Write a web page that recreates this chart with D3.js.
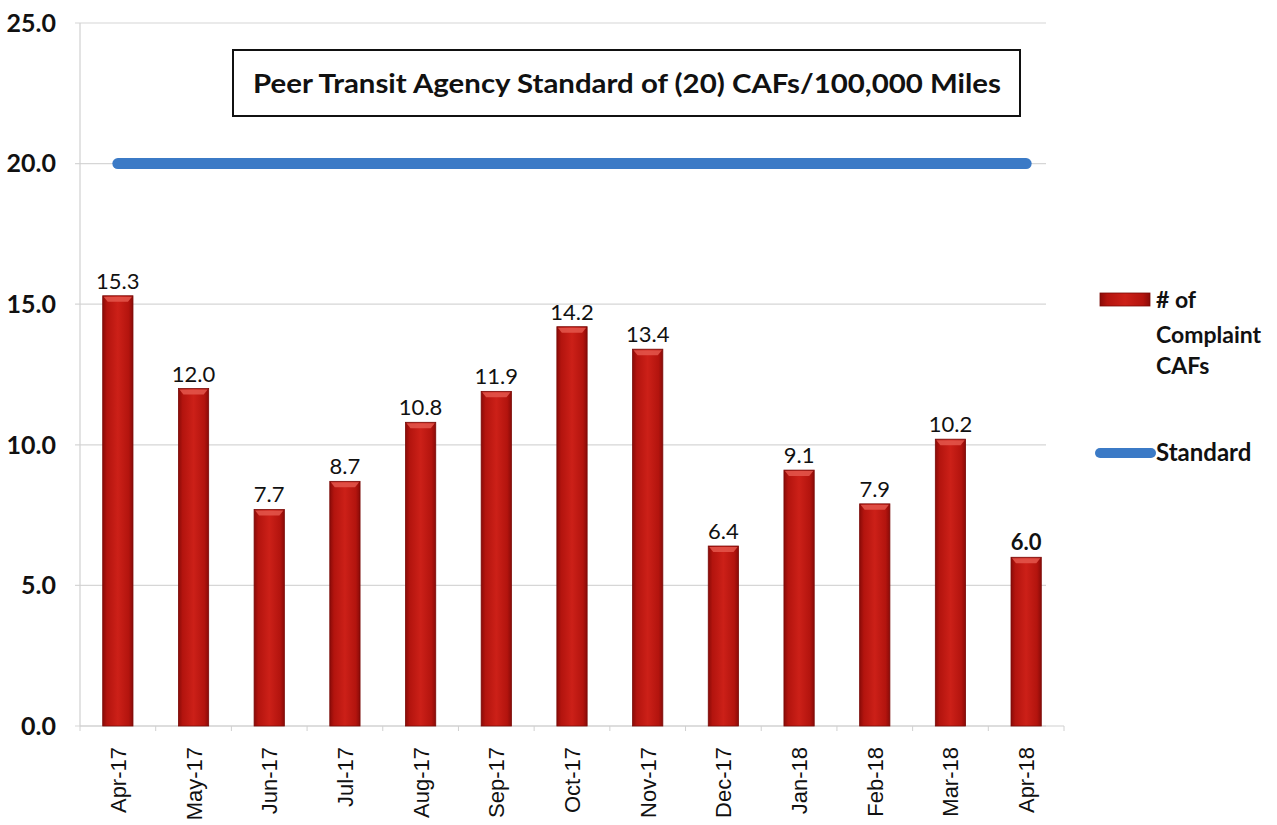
<!DOCTYPE html>
<html><head><meta charset="utf-8">
<script src="https://cdn.jsdelivr.net/npm/d3@7"></script>
<style>body{margin:0;background:#fff;}svg{display:block;}</style>
</head><body>
<svg id="c" width="1277" height="825"></svg>
<script>
const categories = ["Apr-17","May-17","Jun-17","Jul-17","Aug-17","Sep-17","Oct-17","Nov-17","Dec-17","Jan-18","Feb-18","Mar-18","Apr-18"];
const complaintCAFs = [15.3,12.0,7.7,8.7,10.8,11.9,14.2,13.4,6.4,9.1,7.9,10.2,6.0];
const standard = [20,20,20,20,20,20,20,20,20,20,20,20,20];
const yTicks = [0,5,10,15,20,25];
const titleText = "Peer Transit Agency Standard of (20) CAFs/100,000 Miles";
const legendBar = ["# of","Complaint","CAFs"];
const legendLine = "Standard";

const svg = d3.select("#c");
const m = {l:80, r:1064, t:23, b:726};
const x = d3.scaleBand().domain(categories).range([m.l, m.r]).paddingInner(0.6).paddingOuter(0.3);
const xc = d3.scalePoint().domain(categories).range([m.l, m.r]).padding(0.5);
const y = d3.scaleLinear().domain([0,25]).range([m.b, m.t]);

const defs = svg.append("defs");
const g1 = defs.append("linearGradient").attr("id","barG").attr("x1","0").attr("x2","1").attr("y1","0").attr("y2","0");
g1.append("stop").attr("offset","0").attr("stop-color","#8a0b08");
g1.append("stop").attr("offset","0.14").attr("stop-color","#b3140e");
g1.append("stop").attr("offset","0.5").attr("stop-color","#cc2018");
g1.append("stop").attr("offset","0.86").attr("stop-color","#b3140e");
g1.append("stop").attr("offset","1").attr("stop-color","#8a0b08");

// gridlines
svg.append("g").selectAll("line").data(yTicks).join("line")
  .attr("x1", m.l-5).attr("x2", m.r-18)
  .attr("y1", d=>y(d)).attr("y2", d=>y(d))
  .attr("stroke","#d6d6d6").attr("stroke-width",1.2);

// y axis line
svg.append("line").attr("x1",m.l).attr("x2",m.l).attr("y1",m.t).attr("y2",m.b)
  .attr("stroke","#d0d0d0").attr("stroke-width",1.2);
// x axis baseline
svg.append("line").attr("x1",m.l).attr("x2",m.r).attr("y1",m.b).attr("y2",m.b)
  .attr("stroke","#d0d0d0").attr("stroke-width",1.2);

// y labels
svg.append("g").selectAll("text").data(yTicks).join("text")
  .attr("x", 56).attr("y", d=>y(d)).attr("dy","0.35em")
  .attr("text-anchor","end")
  .attr("font-family","Lato, 'Open Sans', sans-serif").attr("font-weight","bold")
  .attr("font-size",25).attr("fill","#111")
  .text(d=>d.toFixed(1));

// x axis ticks between categories
const step = x.step();
const x0 = x(categories[0]) - step*x.paddingInner()/2;
svg.append("g").selectAll("line").data(d3.range(categories.length+1)).join("line")
  .attr("x1", i=> x0 + i*step).attr("x2", i=> x0 + i*step)
  .attr("y1", m.b).attr("y2", m.b+5)
  .attr("stroke","#d0d0d0");

// bars
const bars = svg.append("g").selectAll("g").data(complaintCAFs).join("g");
bars.append("rect")
  .attr("x",(d,i)=>x(categories[i])).attr("width",x.bandwidth())
  .attr("y",d=>y(d)).attr("height",d=>y(0)-y(d))
  .attr("fill","url(#barG)").attr("stroke","#7a0a07").attr("stroke-width",0.8);
bars.append("path")
  .attr("d",(d,i)=>{const bx=x(categories[i]), w=x.bandwidth(), ty=y(d);
     return `M${bx+1},${ty+1}L${bx+w-1},${ty+1}L${bx+w-5},${ty+6}L${bx+5},${ty+6}Z`;})
  .attr("fill","#e4574c").attr("opacity",0.85);

// data labels
svg.append("g").selectAll("text").data(complaintCAFs).join("text")
  .attr("x",(d,i)=>xc(categories[i])).attr("y",d=>y(d)-7)
  .attr("text-anchor","middle")
  .attr("font-family","Lato, 'Open Sans', sans-serif")
  .attr("font-weight",(d,i)=> i===categories.length-1 ? "bold":"normal")
  .attr("font-size",22).attr("fill","#111")
  .text(d=>d.toFixed(1));

// standard line
const line = d3.line().x((d,i)=>xc(categories[i])).y(d=>y(d));
svg.append("path").datum(standard).attr("d",line)
  .attr("fill","none").attr("stroke","#3b7ac6").attr("stroke-width",11).attr("stroke-linecap","round");

// x labels
svg.append("g").selectAll("text").data(categories).join("text")
  .attr("transform",d=>`translate(${xc(d)+8},${m.b+21}) rotate(-90)`)
  .attr("text-anchor","end")
  .attr("font-family","'Liberation Sans', Arial, sans-serif")
  .attr("font-size",22).attr("fill","#111")
  .text(d=>d);

// title box
svg.append("rect").attr("x",233).attr("y",50).attr("width",787).attr("height",66)
  .attr("fill","#fff").attr("stroke","#111").attr("stroke-width",2);
svg.append("text").attr("x",627).attr("y",84).attr("dy","0.35em").attr("text-anchor","middle")
  .attr("font-family","Lato, 'Open Sans', sans-serif").attr("font-weight","bold")
  .attr("font-size",26).attr("fill","#111")
  .attr("textLength",748).attr("lengthAdjust","spacingAndGlyphs")
  .text(titleText);

// legend
svg.append("rect").attr("x",1100).attr("y",293).attr("width",50).attr("height",13)
  .attr("fill","url(#barG)").attr("stroke","#7a0a07").attr("stroke-width",0.8);
svg.append("g").selectAll("text").data(legendBar).join("text")
  .attr("x",1156).attr("y",(d,i)=>[300,335,366][i]).attr("dy","0.35em")
  .attr("font-family","Lato, 'Open Sans', sans-serif").attr("font-weight","bold")
  .attr("font-size",23).attr("fill","#111")
  .text(d=>d);
svg.append("line").attr("x1",1100).attr("x2",1151).attr("y1",453).attr("y2",453)
  .attr("stroke","#3b7ac6").attr("stroke-width",10).attr("stroke-linecap","round");
svg.append("text").attr("x",1156).attr("y",453).attr("dy","0.35em")
  .attr("font-family","Lato, 'Open Sans', sans-serif").attr("font-weight","bold")
  .attr("font-size",24).attr("fill","#111")
  .text(legendLine);
</script>
</body></html>
